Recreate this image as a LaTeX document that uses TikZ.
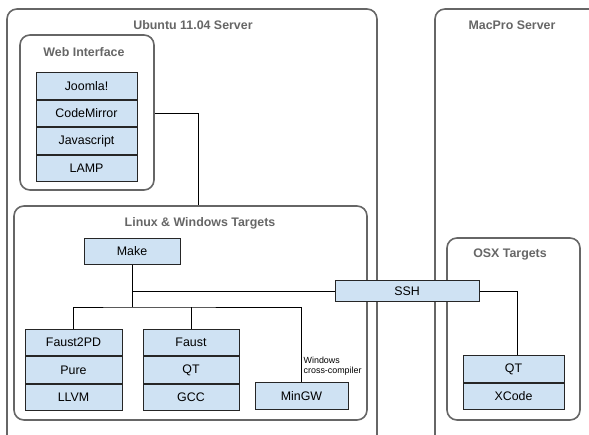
\documentclass[tikz,border=0pt]{standalone}
\usepackage{fontspec}
\setmainfont{Liberation Sans}
\usetikzlibrary{positioning}

\definecolor{boxblue}{HTML}{CFE2F3}
\definecolor{framegray}{HTML}{666666}
\definecolor{titlegray}{HTML}{666666}

\tikzset{
  group/.style={draw=framegray,line width=1.6pt,rounded corners=10pt,inner sep=0pt},
  grouptitle/.style={text=titlegray,font=\fontsize{12.4}{14}\selectfont\bfseries,inner sep=0pt},
  layer/.style={draw=black!85,fill=boxblue,line width=1pt,inner sep=0pt,
    minimum height=26.5pt,font=\fontsize{12.4}{14}\selectfont},
  link/.style={draw=black,line width=0.9pt}
}

\begin{document}
\begin{tikzpicture}[x=1pt,y=-1pt]
  \useasboundingbox (0,0) rectangle (589,435);

  % Servers
  \node[group,minimum width=370pt,minimum height=440pt] (ubuntu) at (192,229) {};
  \node[grouptitle] (ubuntutitle) at (193,25) {Ubuntu 11.04 Server};
  \node[group,minimum width=170pt,minimum height=440pt] (macpro) at (520,229) {};
  \node[grouptitle] (macprotitle) at (512,25) {MacPro Server};

  % Web interface
  \node[group,minimum width=134pt,minimum height=155pt] (web) at (87,112.5) {};
  \node[grouptitle] (webtitle) at (84,52) {Web Interface};
  \node[layer,minimum width=101pt] (joomla) at (86.5,86) {Joomla!};
  \node[layer,minimum width=101pt,below=0pt of joomla] (codemirror) {CodeMirror};
  \node[layer,minimum width=101pt,below=0pt of codemirror] (javascript) {Javascript};
  \node[layer,minimum width=101pt,below=0pt of javascript] (lamp) {LAMP};

  % Linux & Windows targets
  \node[group,minimum width=353pt,minimum height=214pt] (linux) at (190.5,313) {};
  \node[grouptitle] (linuxtitle) at (200,223) {Linux \& Windows Targets};
  \node[layer,minimum width=96pt] (make) at (132,251.5) {Make};
  \node[layer,minimum width=97pt] (faustpd) at (73.5,342.5) {Faust2PD};
  \node[layer,minimum width=97pt,below=0pt of faustpd] (pure) {Pure};
  \node[layer,minimum width=97pt,below=0pt of pure] (llvm) {LLVM};
  \node[layer,minimum width=96pt] (faust) at (191,342.5) {Faust};
  \node[layer,minimum width=96pt,below=0pt of faust] (qtlin) {QT};
  \node[layer,minimum width=96pt,below=0pt of qtlin] (gcc) {GCC};
  \node[layer,minimum width=93pt] (mingw) at (301.5,396) {MinGW};
  \node[align=left,anchor=south west,inner sep=0pt,font=\fontsize{8.9}{10.5}\selectfont]
    (crosslabel) at (303.5,376) {Windows\\cross-compiler};

  % OSX targets
  \node[group,minimum width=133pt,minimum height=182pt] (osx) at (513.5,329) {};
  \node[grouptitle] (osxtitle) at (510,254) {OSX Targets};
  \node[layer,minimum width=101pt] (qtosx) at (513.5,369) {QT};
  \node[layer,minimum width=101pt,below=0pt of qtosx] (xcode) {XCode};

  % SSH over the frames
  \node[layer,minimum width=144pt,minimum height=21pt] (ssh) at (407,291.5) {SSH};

  % Connectors
  \coordinate (split) at (132,307);
  \draw[link] (web.east |- codemirror) -| ([xshift=7.5pt]linux.north);
  \draw[link] (make.south) -- (split);
  \draw[link] (make.south) |- (ssh.west);
  \draw[link] (faustpd.north) |- (split) -| (mingw.north);
  \draw[link] (faust.north) -- (faust.north |- split);
  \draw[link] (ssh.east) -| ([xshift=3.5pt]qtosx.north);
\end{tikzpicture}
\end{document}
